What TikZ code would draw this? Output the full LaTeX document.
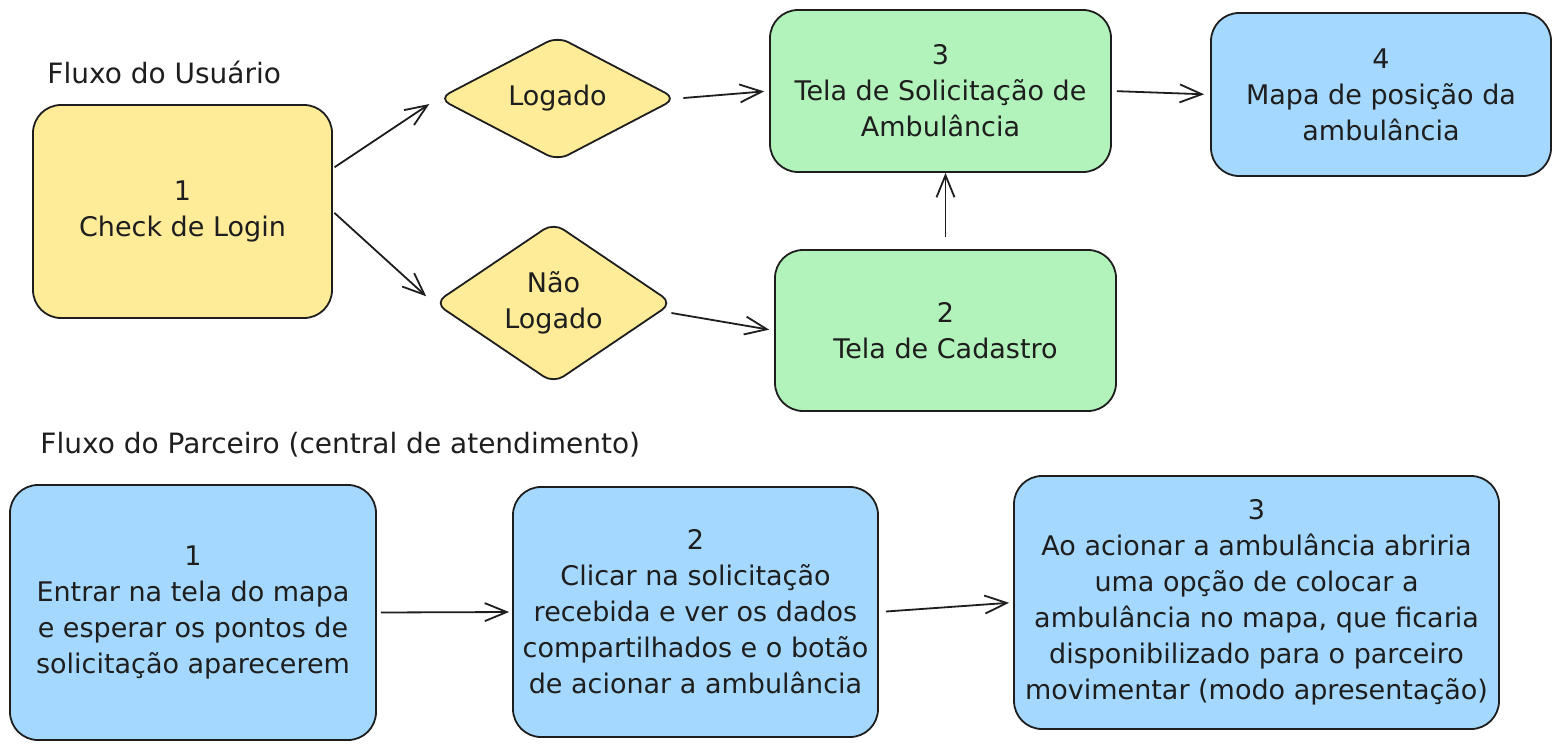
\documentclass[tikz,border=0pt]{standalone}
\usepackage{fontspec}
\setmainfont{DejaVu Sans}
\usetikzlibrary{shapes.geometric,arrows.meta,calc}
\definecolor{ink}{HTML}{1E1E1E}
\definecolor{fyellow}{HTML}{FFEC99}
\definecolor{fgreen}{HTML}{B2F2BB}
\definecolor{fblue}{HTML}{A5D8FF}
\begin{document}
\begin{tikzpicture}[x=0.5pt,y=-0.5pt,
  every node/.style={font=\fontsize{13.5}{18}\selectfont, text=ink},
  box/.style={draw=ink, line width=0.9pt, rounded corners=14pt, align=center, inner sep=0pt, shape=rectangle},
  dia/.style={draw=ink, line width=0.9pt, shape=diamond, rounded corners=6pt, align=center, inner sep=0pt, fill=fyellow},
  conn/.style={draw=ink, line width=0.9pt, -{Straight Barb[length=11pt,width=9pt]}},
  titletext/.style={anchor=west, inner sep=0pt, font=\fontsize{14}{18}\selectfont}]
\useasboundingbox[fill=white] (0,0) rectangle (1561,750);

\node[titletext] (t1) at (47,72) {Fluxo do Usuário};
\node[titletext] (t2) at (40,445) {Fluxo do Parceiro (central de atendimento)};

\node[box, fill=fyellow, minimum width=149.5pt, minimum height=106.5pt] (b1) at (182.5,211.5) {1\\Check de Login};
\node[dia, minimum width=119pt, minimum height=59pt] (log) at (557.5,98.5) {Logado};
\node[dia, minimum width=119pt, minimum height=78pt] (nlog) at (553.5,303) {Não\\Logado};
\node[box, fill=fgreen, minimum width=170.5pt, minimum height=81pt] (b3) at (940.5,91) {3\\Tela de Solicitação de\\Ambulância};
\node[box, fill=fblue, minimum width=170pt, minimum height=81.5pt] (b4) at (1381,94.5) {4\\Mapa de posição da\\ambulância};
\node[box, fill=fgreen, minimum width=170.5pt, minimum height=80.5pt] (b2) at (945.5,330.5) {2\\Tela de Cadastro};

\node[box, fill=fblue, minimum width=183pt, minimum height=127.5pt] (p1) at (193,612.5) {1\\Entrar na tela do mapa\\e esperar os pontos de\\solicitação aparecerem};
\node[box, fill=fblue, minimum width=182.5pt, minimum height=125pt] (p2) at (695.5,612) {2\\Clicar na solicitação\\recebida e ver os dados\\compartilhados e o botão\\de acionar a ambulância};
\node[box, fill=fblue, minimum width=242.5pt, minimum height=126.5pt] (p3) at (1256.5,602.5) {3\\Ao acionar a ambulância abriria\\uma opção de colocar a\\ambulância no mapa, que ficaria\\disponibilizado para o parceiro\\movimentar (modo apresentação)};

\draw[conn, shorten <=1pt, shorten >=5pt] (b1.16) -- (log.west);
\draw[conn, shorten <=1pt, shorten >=5pt] (b1.east) -- (nlog.west);
\draw[conn, shorten <=3pt, shorten >=2.5pt] (log.east) -- (b3.west);
\draw[conn, shorten >=2.5pt] ($(nlog.east)+(-2,10)$) -- (b2.west);
\draw[conn, shorten <=6pt] (b2.north) -- (b2.north |- b3.south);
\draw[conn, shorten <=2.5pt, shorten >=3pt] (b3.east) -- (b4.west);
\draw[conn, shorten <=2pt, shorten >=1.5pt] (p1.east) -- (p2.west);
\draw[conn, shorten <=3.5pt, shorten >=2pt] (p2.east) -- (p3.west);
\end{tikzpicture}
\end{document}
